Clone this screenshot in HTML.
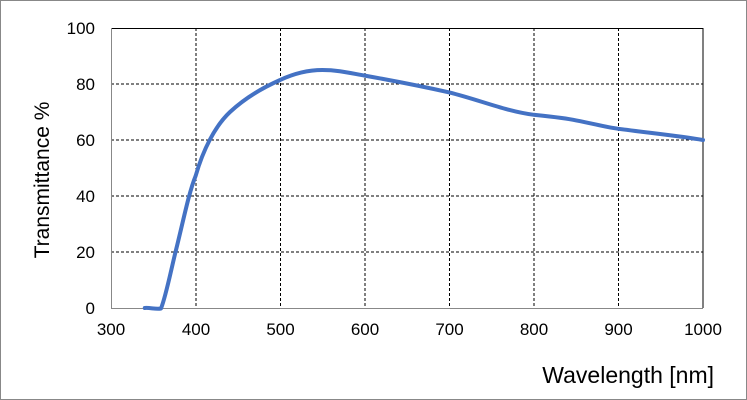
<!DOCTYPE html>
<html><head><meta charset="utf-8"><style>
body{margin:0;background:#fff}
svg{display:block}
text{font-family:"Liberation Sans",sans-serif;fill:#000}
</style></head><body>
<svg width="747" height="400" viewBox="0 0 747 400">
<rect x="0.5" y="0.5" width="746" height="399" fill="#fff" stroke="#888"/>
<g stroke="#000" stroke-width="1" stroke-dasharray="3,2">
<line x1="196" y1="28" x2="196" y2="308"/>
<line x1="280.5" y1="28" x2="280.5" y2="308"/>
<line x1="365" y1="28" x2="365" y2="308"/>
<line x1="449.5" y1="28" x2="449.5" y2="308"/>
<line x1="534" y1="28" x2="534" y2="308"/>
<line x1="618.5" y1="28" x2="618.5" y2="308"/>
<line x1="111" y1="84" x2="703" y2="84"/>
<line x1="111" y1="140" x2="703" y2="140"/>
<line x1="111" y1="196" x2="703" y2="196"/>
<line x1="111" y1="252" x2="703" y2="252"/>
</g>
<line x1="111" y1="28.5" x2="703" y2="28.5" stroke="#000"/>
<line x1="703" y1="28" x2="703" y2="308" stroke="#000"/>
<line x1="111.5" y1="28" x2="111.5" y2="308" stroke="#888"/>
<line x1="111" y1="308.5" x2="703" y2="308.5" stroke="#888"/>
<path d="M144.8,308 C150,307.5 156,309.5 161,308.5 C166,296 171,270 176,250 C183,222 189,192 195.6,176 C203,150 215,126 230,112 C245,98 262,88 280.1,80 C295,73 308,70 322.4,70 C338,70 350,73 364.7,75.6 C395,81 425,87 449.3,92.4 C480,100 505,111 533.9,114.8 C555,117 565,118 576.2,120.4 C595,124 605,127 618.4,128.8 C650,133 680,136 703,140" fill="none" stroke="#4472c4" stroke-width="4" stroke-linecap="round" stroke-linejoin="round"/>
<g font-size="17" text-anchor="end">
<text x="95" y="34">100</text>
<text x="95" y="90">80</text>
<text x="95" y="146">60</text>
<text x="95" y="202">40</text>
<text x="95" y="258">20</text>
<text x="95" y="314">0</text>
</g>
<g font-size="17" text-anchor="middle">
<text x="111" y="335">300</text>
<text x="196" y="335">400</text>
<text x="280.5" y="335">500</text>
<text x="365" y="335">600</text>
<text x="449.5" y="335">700</text>
<text x="534" y="335">800</text>
<text x="618.5" y="335">900</text>
<text x="703" y="335">1000</text>
</g>
<text x="0" y="0" font-size="21" text-anchor="middle" transform="translate(49,180) rotate(-90)">Transmittance %</text>
<text x="714" y="383" font-size="23" text-anchor="end">Wavelength [nm]</text>
</svg>
</body></html>
